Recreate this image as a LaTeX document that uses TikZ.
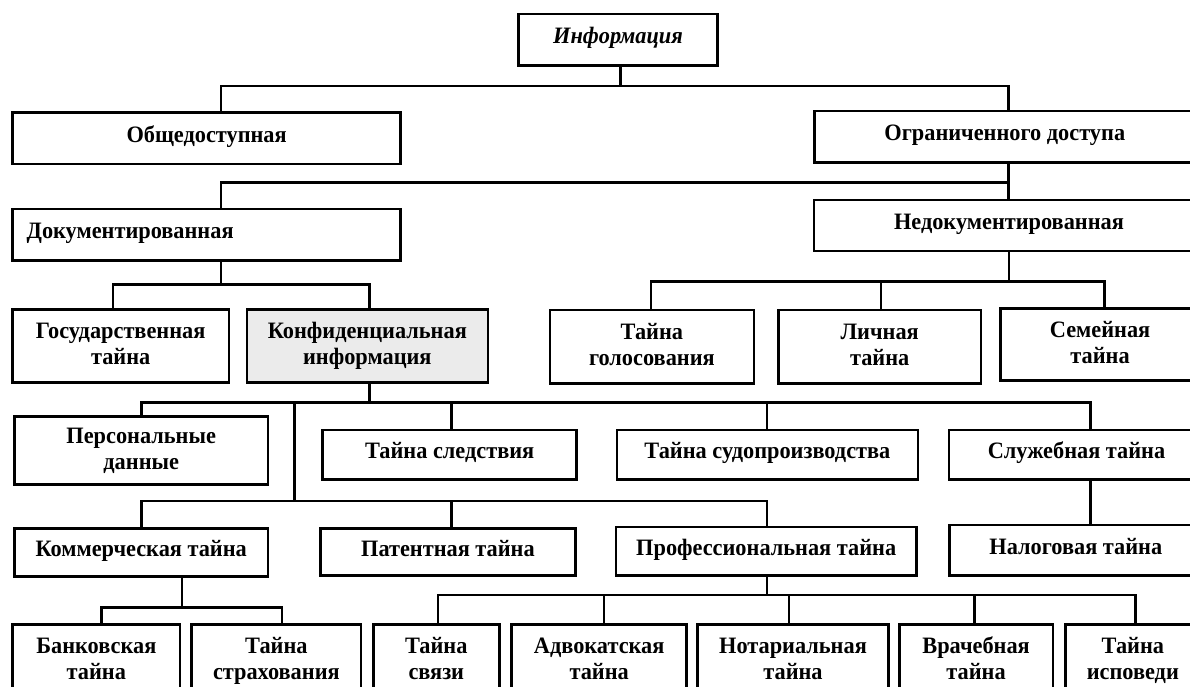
\documentclass[tikz,border=0pt]{standalone}
\usepackage{fontspec}
\setmainfont{Liberation Serif}[FakeStretch=0.95]
\usetikzlibrary{calc}
\newcommand{\lastdepth}{\vphantom{у}}
\newcommand{\firstht}{\vphantom{Тб}}
\begin{document}
\begin{tikzpicture}[x=1pt,y=-1pt,
  box/.style={draw, line width=2.6pt, rectangle, inner sep=0pt, align=center,
    font=\bfseries\fontsize{23.5}{26}\selectfont},
  one/.style={text height=16pt, text depth=8pt},
  hl/.style={fill=black!8},
  conn/.style={draw, line width=2.5pt}]
\useasboundingbox (0,0) rectangle (1190,686);
\fill[white] (0,0) rectangle (1190,686);
\clip (0,0) rectangle (1190,686);

% level 0-1
\node[box, one, minimum width=198.8pt, minimum height=51.7pt] (info) at (618,39.9) {\itshape Информация};
\node[box, one, minimum width=388.1pt, minimum height=51.7pt] (obsh) at (206.65,138.15) {Общедоступная};
\node[box, one, minimum width=380.4pt, minimum height=51.3pt] (ogr) at (1004.8,136.65) {Ограниченного доступа};
% level 2
\node[box, one, minimum width=388.1pt, minimum height=51.7pt, text width=360pt, align=left] (doc) at (206.65,234.85) {Документированная};
\node[box, one, minimum width=390pt, minimum height=51pt] (nedok) at (1008.95,225.5) {Недокументированная};
% level 3
\node[box, minimum width=216.2pt, minimum height=73.4pt] (gos) at (120.7,346) {\firstht Государственная\\тайна\lastdepth};
\node[box, hl, minimum width=241.1pt, minimum height=73.4pt] (konf) at (367.35,346) {\firstht Конфиденциальная\\информация\lastdepth};
\node[box, minimum width=203.9pt, minimum height=73.3pt] (golos) at (651.85,346.65) {\firstht Тайна\\голосования\lastdepth};
\node[box, minimum width=202.8pt, minimum height=73.3pt] (lichn) at (879.7,346.65) {\firstht Личная\\тайна\lastdepth};
\node[box, minimum width=199.8pt, minimum height=72.4pt] (semei) at (1100.1,344.5) {\firstht Семейная\\тайна\lastdepth};
% level 4
\node[box, minimum width=253.4pt, minimum height=67.6pt] (pers) at (141.2,450.5) {\firstht Персональные\\данные\lastdepth};
\node[box, one, minimum width=254.1pt, minimum height=49.3pt] (sled) at (449.65,454.65) {Тайна следствия};
\node[box, one, minimum width=301.2pt, minimum height=49.3pt] (sud) at (767.4,454.65) {Тайна судопроизводства};
\node[box, one, minimum width=255pt, minimum height=49.3pt] (sluzh) at (1076.5,454.65) {Служебная тайна};
% level 5
\node[box, one, minimum width=253.4pt, minimum height=48.4pt] (komm) at (141.2,552.5) {Коммерческая тайна};
\node[box, one, minimum width=254.5pt, minimum height=47.4pt] (pat) at (447.95,552) {Патентная тайна};
\node[box, one, minimum width=300.4pt, minimum height=48.7pt] (prof) at (766.2,551.35) {Профессиональная тайна};
\node[box, one, minimum width=252.3pt, minimum height=50.7pt] (nalog) at (1075.85,550.35) {Налоговая тайна};
% level 6
\node[box, minimum width=167.3pt, minimum height=71.7pt] (bank) at (96.35,660.15) {\firstht Банковская\\тайна\lastdepth};
\node[box, minimum width=169.3pt, minimum height=71.7pt] (strah) at (276.35,660.15) {\firstht Тайна\\страхования\lastdepth};
\node[box, minimum width=126pt, minimum height=71.7pt] (svyaz) at (436.3,660.15) {\firstht Тайна\\связи\lastdepth};
\node[box, minimum width=175pt, minimum height=71.7pt] (advok) at (599.2,660.15) {\firstht Адвокатская\\тайна\lastdepth};
\node[box, minimum width=191pt, minimum height=71.7pt] (notar) at (793,660.15) {\firstht Нотариальная\\тайна\lastdepth};
\node[box, minimum width=153.8pt, minimum height=71.7pt] (vrach) at (976.1,660.15) {\firstht Врачебная\\тайна\lastdepth};
\node[box, minimum width=134.3pt, minimum height=71.7pt] (ispov) at (1132.85,660.15) {\firstht Тайна\\исповеди\lastdepth};

% bus junction coordinates
\coordinate (b1p) at (620.6,86);
\coordinate (b1a) at (220.8,86);
\coordinate (b1b) at (1008.3,86);
\coordinate (b2a) at (220.8,182.7);
\coordinate (b2b) at (1008.3,182.7);
\coordinate (b3p) at (220.8,284.3);
\coordinate (b3a) at (112.9,284.3);
\coordinate (b3b) at (369.3,284.3);
\coordinate (b4p) at (1009,281.7);
\coordinate (b4a) at (651.2,281.7);
\coordinate (b4b) at (880.8,281.7);
\coordinate (b4c) at (1104.7,281.7);
\coordinate (b5p) at (369.3,402.7);
\coordinate (b5a) at (141.6,402.7);
\coordinate (b5v) at (294.7,402.7);
\coordinate (b5b) at (451.6,402.7);
\coordinate (b5c) at (767.2,402.7);
\coordinate (b5d) at (1090.6,402.7);
\coordinate (b6v) at (294.7,501);
\coordinate (b6a) at (141.6,501);
\coordinate (b6b) at (451.6,501);
\coordinate (b6c) at (767.2,501);
\coordinate (b7p) at (181.8,607.7);
\coordinate (b7a) at (101.4,607.7);
\coordinate (b7b) at (282,607.7);
\coordinate (b8p) at (767.2,595);
\coordinate (b8a) at (438.2,595);
\coordinate (b8b) at (604.2,595);
\coordinate (b8c) at (789,595);
\coordinate (b8d) at (974.6,595);
\coordinate (b8e) at (1135.3,595);

% connectors
\path[conn] (info.south -| b1p) -- (b1p);
\path[conn] (obsh.north -| b1a) -- (b1a) -- (b1b) -- (ogr.north -| b1b);
\path[conn] (ogr.south -| b2b) -- (nedok.north -| b2b);
\path[conn] (b2b) -- (b2a) -- (doc.north -| b2a);
\path[conn] (doc.south -| b3p) -- (b3p);
\path[conn] (gos.north -| b3a) -- (b3a) -- (b3b) -- (konf.north -| b3b);
\path[conn] (nedok.south -| b4p) -- (b4p);
\path[conn] (golos.north -| b4a) -- (b4a) -- (b4c) -- (semei.north -| b4c);
\path[conn] (b4b) -- (lichn.north -| b4b);
\path[conn] (konf.south -| b5p) -- (b5p);
\path[conn] (pers.north -| b5a) -- (b5a) -- (b5d) -- (sluzh.north -| b5d);
\path[conn] (b5b) -- (sled.north -| b5b);
\path[conn] (b5c) -- (sud.north -| b5c);
\path[conn] (b5v) -- (b6v);
\path[conn] (komm.north -| b6a) -- (b6a) -- (b6c) -- (prof.north -| b6c);
\path[conn] (b6b) -- (pat.north -| b6b);
\path[conn] (sluzh.south -| b5d) -- (nalog.north -| b5d);
\path[conn] (komm.south -| b7p) -- (b7p);
\path[conn] (bank.north -| b7a) -- (b7a) -- (b7b) -- (strah.north -| b7b);
\path[conn] (prof.south -| b8p) -- (b8p);
\path[conn] (svyaz.north -| b8a) -- (b8a) -- (b8e) -- (ispov.north -| b8e);
\path[conn] (b8b) -- (advok.north -| b8b);
\path[conn] (b8c) -- (notar.north -| b8c);
\path[conn] (b8d) -- (vrach.north -| b8d);
\end{tikzpicture}
\end{document}
